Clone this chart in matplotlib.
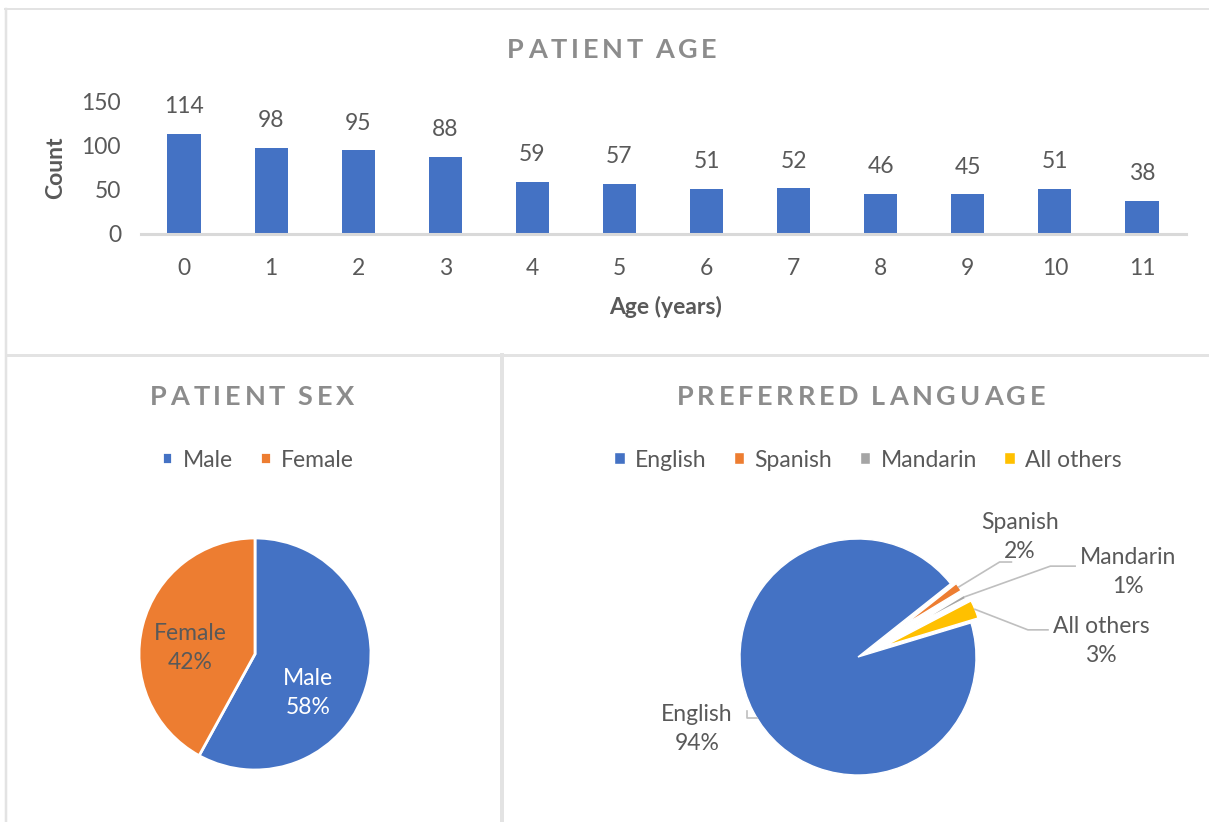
import numpy as np
import matplotlib
matplotlib.use('Agg')
import matplotlib.pyplot as plt
from matplotlib.lines import Line2D

plt.rcParams['font.family'] = ['Lato', 'DejaVu Sans']

# data
ages = [0, 1, 2, 3, 4, 5, 6, 7, 8, 9, 10, 11]
counts = [114, 98, 95, 88, 59, 57, 51, 52, 46, 45, 51, 38]

sex_labels = ['Male', 'Female']
sex_pct = [58, 42]

lang_labels = ['English', 'Spanish', 'Mandarin', 'All others']
lang_pct = [94, 2, 1, 3]

BLUE = '#4472C4'
ORANGE = '#ED7D31'
GRAY = '#A5A5A5'
YELLOW = '#FFC000'
TXT = '#595959'
TITLE = '#8C8C8C'
LINE = '#E3E3E3'
FS = 16.5

W, H = 1209, 822
fig = plt.figure(figsize=(W / 100, H / 100), dpi=100)
renderer = fig.canvas.get_renderer()

def fx(px):
    return px / W

def fy(py):
    return 1 - py / H

# panel borders
for xs, ys, lw in [((5, W), (9.5, 9.5), 2), ((6, 6), (9.5, H), 2.5),
                   ((6, W), (355.5, 355.5), 3), ((502, 502), (355.5, H), 4)]:
    fig.add_artist(Line2D([fx(xs[0]), fx(xs[1])], [fy(ys[0]), fy(ys[1])],
                          color=LINE, lw=lw * 0.72, transform=fig.transFigure))

# ---- bar chart
ax = fig.add_axes([fx(140.5), fy(234), fx(1045), 132 / H])
bars = ax.bar(ages, counts, width=0.38, color=BLUE)
ax.bar_label(bars, padding=12, fontsize=FS, color=TXT)
ax.set_xlim(-0.5, 11.5)
ax.set_ylim(0, 150)
ax.set_yticks([0, 50, 100, 150])
ax.set_xticks(ages)
for s in ['top', 'right', 'left']:
    ax.spines[s].set_visible(False)
ax.spines['bottom'].set_color('#D9D9D9')
ax.spines['bottom'].set_linewidth(2.2)
ax.tick_params(length=0, labelsize=FS, labelcolor=TXT)
ax.tick_params(axis='x', pad=17)
ax.tick_params(axis='y', pad=14)
ax.set_ylabel('Count', fontsize=FS, fontweight='bold', color=TXT)
ax.yaxis.set_label_coords(-0.071, 0.5)
ax.set_xlabel('Age (years)', fontsize=FS, fontweight='bold', color=TXT)
ax.xaxis.set_label_coords(0.502, -0.47)

def title(x, y, s, size=19.5, track=3.8):
    # letter-spaced title, laid out one character at a time
    texts = []
    for ch in s:
        t = fig.text(0, fy(y), ch, ha='left', va='center', fontsize=size,
                     fontweight='bold', color=TITLE)
        texts.append(t)
    widths = []
    for ch, t in zip(s, texts):
        if ch == ' ':
            widths.append(size * 0.25)
        else:
            widths.append(t.get_window_extent(renderer).width)
    total = sum(widths) + track * (len(s) - 1)
    cur = x - total / 2
    for t, wd in zip(texts, widths):
        t.set_x(fx(cur))
        cur += wd + track

title(612, 50, 'PATIENT AGE')
title(252, 397, 'PATIENT SEX')
title(861, 397, 'PREFERRED LANGUAGE')

# ---- sex pie
R1 = 116
ax2 = fig.add_axes([fx(255 - R1), fy(654 + R1), fx(2 * R1), 2 * R1 / H])
w2, _ = ax2.pie(sex_pct, colors=[BLUE, ORANGE], startangle=90, counterclock=False,
                wedgeprops=dict(edgecolor='white', linewidth=2))
ax2.set_xlim(-1, 1)
ax2.set_ylim(-1, 1)
ax2.axis('off')
ax2.text(0.457, -0.336, 'Male\n%d%%' % sex_pct[0], ha='center', va='center',
         fontsize=FS, color='white', linespacing=1.5)
ax2.text(-0.56, 0.05, 'Female\n%d%%' % sex_pct[1], ha='center', va='center',
         fontsize=FS, color=TXT, linespacing=1.5)
fig.legend(w2, sex_labels, loc='center', bbox_to_anchor=(fx(258), fy(460)), ncol=2,
           frameon=False, fontsize=FS, labelcolor=TXT, handlelength=0.45, handleheight=0.45,
           handletextpad=0.45, columnspacing=1.2)

# ---- language pie
R2 = 118
ax3 = fig.add_axes([fx(858 - R2), fy(657 + R2), fx(2 * R2), 2 * R2 / H])
w3, _ = ax3.pie(lang_pct, colors=[BLUE, ORANGE, GRAY, YELLOW], startangle=16.8,
                counterclock=False, explode=[0, 0.47, 0.54, 0.24],
                wedgeprops=dict(edgecolor='white', linewidth=1))
for w, r in zip(w3[1:], [0.57, 0.5, 0.83]):
    w.set_radius(r)
ax3.set_xlim(-1, 1)
ax3.set_ylim(-1, 1)
ax3.axis('off')

def outer(w):
    a = np.deg2rad((w.theta1 + w.theta2) / 2)
    cx, cy = w.center
    return cx + w.r * np.cos(a), cy + w.r * np.sin(a)

lc = '#BFBFBF'
# leader lines and labels
pts = {1: [(1.20, 0.805), (1.30, 0.805)], 2: [(1.63, 0.77), (1.84, 0.77)],
       3: [(1.44, 0.23), (1.61, 0.23)]}
for i, p in pts.items():
    x0, y0 = outer(w3[i])
    ax3.plot([x0, p[0][0], p[1][0]], [y0, p[0][1], p[1][1]], color=lc, lw=1.2, clip_on=False)
ax3.plot([-0.86, -0.94, -0.94], [-0.52, -0.52, -0.46], color=lc, lw=1.2, clip_on=False)

lab_pos = [(-1.364, -0.61), (1.373, 1.017), (2.288, 0.72), (2.06, 0.136)]
for (x, y), l, p in zip(lab_pos, lang_labels, lang_pct):
    ax3.text(x, y, '%s\n%d%%' % (l, p), ha='center', va='center', fontsize=FS,
             color=TXT, linespacing=1.5)

fig.legend(w3, lang_labels, loc='center', bbox_to_anchor=(fx(868), fy(460)), ncol=4,
           frameon=False, fontsize=FS, labelcolor=TXT, handlelength=0.45, handleheight=0.45,
           handletextpad=0.45, columnspacing=1.2)

fig.savefig('out.png', dpi=100, facecolor='white')
